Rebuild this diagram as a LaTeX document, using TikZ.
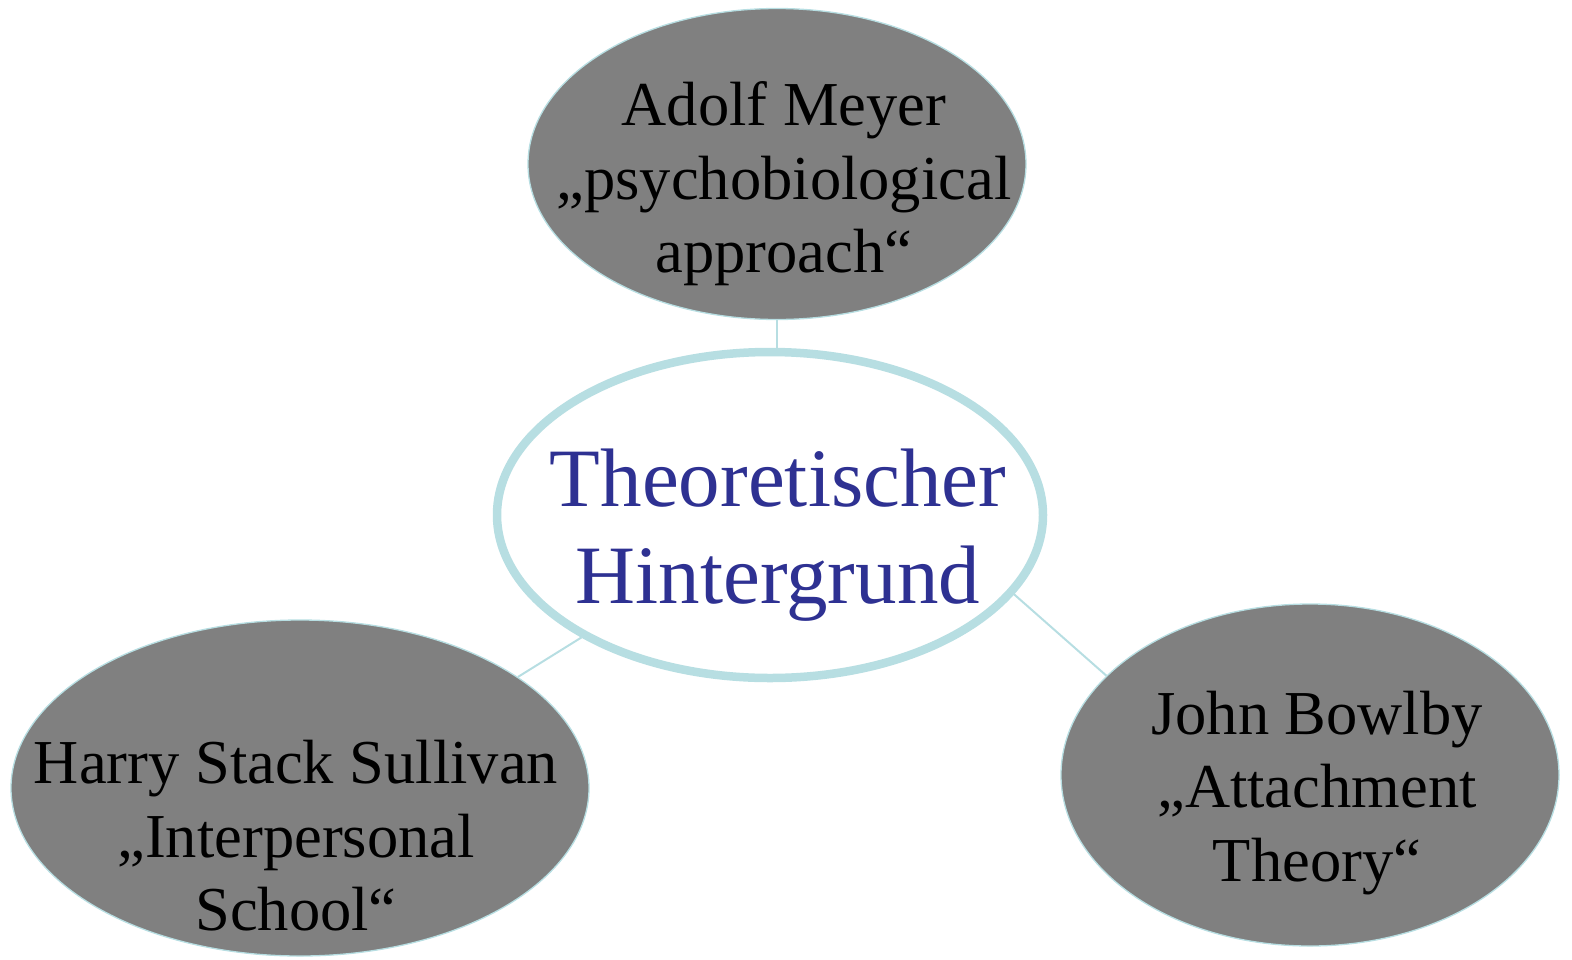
\documentclass[tikz,border=0pt]{standalone}
\usepackage{fontspec}
\setmainfont{Liberation Serif}
\usetikzlibrary{shapes.geometric}
\definecolor{lblue}{HTML}{B7DEE2}
\definecolor{tblue}{HTML}{2E3192}
\definecolor{gfill}{HTML}{808080}
\tikzset{
  outer/.style={ellipse, draw=lblue, line width=1.3pt, fill=gfill, inner sep=0pt},
  centre/.style={ellipse, draw=lblue, line width=8.5pt, fill=white, inner sep=0pt},
  outertext/.style={align=center, inner sep=0pt, font=\fontsize{62.5}{73.5}\selectfont, text=black},
  centretext/.style={align=center, inner sep=0pt, font=\fontsize{83}{97}\selectfont, text=tblue},
  link/.style={draw=lblue, line width=2pt}
}
\begin{document}
\begin{tikzpicture}[x=1pt,y=-1pt]
\useasboundingbox (0,0) rectangle (1572,959);
\node[centre, minimum width=546pt, minimum height=326pt] (c) at (770,515) {};
\node[outer, minimum width=498pt, minimum height=311pt] (t) at (777,164) {};
\node[outer, minimum width=578pt, minimum height=336pt] (l) at (300,788) {};
\node[outer, minimum width=498pt, minimum height=342pt] (r) at (1310,775) {};
\node[centretext] (ct) at (778,535) {Theoretischer\\Hintergrund};
\node[outertext] (tt) at (784,184) {Adolf Meyer\\„psychobiological\\approach“};
\node[outertext] (lt) at (296,836) {Harry Stack Sullivan\\„Interpersonal\\School“};
\node[outertext] (rt) at (1317,793) {John Bowlby\\„Attachment\\Theory“};
\draw[link] (t.south) -- (t.south |- c.north);
\draw[link] (c.-147) -- (l.27);
\draw[link] (c.-18.5) -- (r.154.8);
\end{tikzpicture}
\end{document}
